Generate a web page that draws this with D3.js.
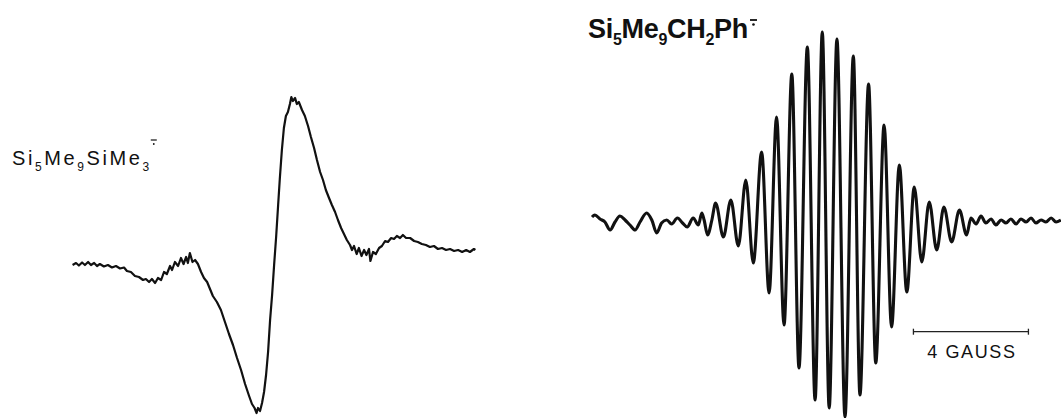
<!DOCTYPE html>
<html>
<head>
<meta charset="utf-8">
<script src="https://cdn.jsdelivr.net/npm/d3@7"></script>
<style>
html,body{margin:0;padding:0;background:#fff;}
svg{display:block;}
</style>
</head>
<body>
<svg id="chart" width="1061" height="418"></svg>
<script>
// ---- Data (field in gauss, signal in arbitrary units) ----
const leftLabel = ["Si","5","Me","9","SiMe","3"];
const rightLabel = ["Si","5","Me","9","CH","2","Ph"];
const scaleBarGauss = 4;
const scaleBarText = "4 GAUSS";

// Si5Me9SiMe3 radical anion spectrum
const leftField = [0.02,0.14,0.24,0.35,0.45,0.56,0.66,0.77,0.87,0.97,1.11,1.25,1.39,1.53,1.67,1.81,1.91,2.05,2.19,2.33,2.47,2.57,2.68,2.78,2.89,2.99,3.10,3.20,3.30,3.41,3.48,3.58,3.69,3.79,3.88,3.97,4.03,4.10,4.19,4.28,4.38,4.49,4.59,4.70,4.80,4.90,5.04,5.18,5.32,5.46,5.60,5.74,5.88,6.02,6.16,6.26,6.35,6.42,6.47,6.54,6.61,6.68,6.75,6.82,6.89,6.96,7.03,7.10,7.17,7.23,7.30,7.37,7.44,7.51,7.58,7.63,7.68,7.76,7.82,7.89,8.00,8.10,8.21,8.31,8.42,8.52,8.63,8.73,8.83,8.94,9.04,9.15,9.25,9.36,9.46,9.56,9.67,9.74,9.81,9.90,9.98,10.07,10.16,10.24,10.33,10.38,10.47,10.57,10.68,10.78,10.89,10.99,11.10,11.20,11.30,11.41,11.51,11.62,11.76,11.90,12.03,12.17,12.31,12.45,12.59,12.73,12.87,13.01,13.15,13.29,13.43,13.57,13.71,13.84,13.98,14.03];
const leftSignal = [-7,-5,-7.5,-4.5,-7,-4,-7,-5,-8,-6,-8.5,-7,-9.5,-8,-10.5,-9.5,-13,-14,-18,-19,-22,-21,-24,-21,-25,-20,-22,-14,-16,-8,-12,-4,-8,0,-6,1,-5,5,-4,-2,-6,-14,-20,-24,-31,-38,-44,-52,-64,-76,-87,-100,-112,-126,-138,-146,-150,-155,-150,-153,-145,-134,-117,-94,-62,-37,-7,21,53,80,108,130,142,146,154,161,157,160,154,156,148,142,132,121,110,98,86,78,68,60,53,46,38,30,24,18,13,8,12,4,10,2,8,3,9,-3,6,4,10,12,17,16,20,19,22,20,23,20,20,17,16,14,13,11,12,9,10,8,9,7,8,6,8,6,9,8];

// Si5Me9CH2Ph radical anion spectrum
const rightField = [0,0.10,0.28,0.45,0.63,0.80,0.97,1.15,1.32,1.50,1.67,1.90,2.08,2.25,2.42,2.60,2.77,2.97,3.15,3.31,3.52,3.70,3.82,3.90,4.02,4.17,4.30,4.57,4.83,5.09,5.35,5.61,5.90,6.16,6.42,6.68,6.95,7.20,7.49,7.76,8.01,8.25,8.52,8.80,9.09,9.32,9.62,9.87,10.16,10.42,10.69,10.95,11.21,11.47,11.73,11.99,12.24,12.51,12.78,13.03,13.18,13.36,13.53,13.70,13.88,14.05,14.23,14.40,14.57,14.75,14.92,15.10,15.27,15.44,15.62,15.79,15.97,16.14,16.31];
const rightSignal = [4,6,2,-1,-9,-1,5,1,-4,-9,-1,8,1,-12,-2,1,-3,3,-2,-6,3,-4,8,1,-14,1,18,-16,21,-25,41,-42,69,-72,104,-104,147,-147,174,-179,189,-187,182,-196,165,-174,137,-142,96,-106,56,-71,34,-41,19,-29,14,-21,11,-14,3,-3,5,-2,2,-4,1,-2,2,-3,2,-1,3,-2,1,-1,3,-1,1];

// ---- Drawing ----
const svg = d3.select("#chart");

const pxPerGauss = 28.75;
const leftX = d3.scaleLinear().domain([0, 14.1]).range([72, 72 + 14.1 * pxPerGauss]);
const leftY = d3.scaleLinear().domain([-160, 160]).range([418, 98]);
const rightX = d3.scaleLinear().domain([0, 16.4]).range([592, 592 + 16.4 * pxPerGauss]);
const rightY = d3.scaleLinear().domain([-200, 200]).range([421, 21]);

const leftData = leftField.map((f, i) => [f, leftSignal[i]]);
const rightData = rightField.map((f, i) => [f, rightSignal[i]]);

svg.append("path")
  .datum(leftData)
  .attr("fill", "none")
  .attr("stroke", "#111")
  .attr("stroke-width", 2.2)
  .attr("stroke-linejoin", "round")
  .attr("d", d3.line().x(d => leftX(d[0])).y(d => leftY(d[1])));

svg.append("path")
  .datum(rightData)
  .attr("fill", "none")
  .attr("stroke", "#111")
  .attr("stroke-width", 3.1)
  .attr("stroke-linejoin", "round")
  .attr("d", d3.line().curve(d3.curveMonotoneX).x(d => rightX(d[0])).y(d => rightY(d[1])));

// scale bar
const barStart = 11.18;
const barY = rightY(-110.7);
const bx0 = rightX(barStart), bx1 = rightX(barStart + scaleBarGauss);
const bar = svg.append("g").attr("stroke", "#222").attr("stroke-width", 1.3);
bar.append("line").attr("x1", bx0).attr("x2", bx1).attr("y1", barY).attr("y2", barY);
bar.append("line").attr("x1", bx0).attr("x2", bx0).attr("y1", barY - 3).attr("y2", barY + 3);
bar.append("line").attr("x1", bx1).attr("x2", bx1).attr("y1", barY - 3).attr("y2", barY + 3);
svg.append("text")
  .attr("x", (bx0 + bx1) / 2 + 1).attr("y", barY + 26)
  .attr("text-anchor", "middle")
  .attr("font-family", "Liberation Sans, Arial, sans-serif")
  .attr("font-size", 18)
  .attr("letter-spacing", 1.6)
  .attr("fill", "#111")
  .text(scaleBarText);

// labels
function drawLabel(parts, x, y, size, subSize, weight, spacing, subDy) {
  const t = svg.append("text")
    .attr("x", x).attr("y", y)
    .attr("font-family", "Liberation Sans, Arial, sans-serif")
    .attr("font-size", size)
    .attr("font-weight", weight)
    .attr("letter-spacing", spacing)
    .attr("fill", "#111");
  parts.forEach((p, i) => {
    const isSub = i % 2 === 1;
    const ts = t.append("tspan").text(p);
    if (isSub) ts.attr("font-size", subSize).attr("dy", subDy);
    else if (i > 0) ts.attr("dy", -subDy);
  });
  return t;
}

const lt = drawLabel(leftLabel, 12, 165, 20, 12, 400, 2.6, 6);
const lb = lt.node().getBBox();
// radical anion mark (bar over dot)
svg.append("line").attr("x1", lb.x + lb.width - 1).attr("x2", lb.x + lb.width + 5)
  .attr("y1", 140).attr("y2", 140).attr("stroke", "#111").attr("stroke-width", 1.2);
svg.append("circle").attr("cx", lb.x + lb.width + 2).attr("cy", 144).attr("r", 0.9).attr("fill", "#111");

const rt = drawLabel(rightLabel, 588, 38, 27, 16, 700, -0.3, 7);
const rb = rt.node().getBBox();
svg.append("line").attr("x1", rb.x + rb.width + 2).attr("x2", rb.x + rb.width + 9)
  .attr("y1", 20).attr("y2", 20).attr("stroke", "#111").attr("stroke-width", 1.8);
svg.append("circle").attr("cx", rb.x + rb.width + 5.5).attr("cy", 24.5).attr("r", 1.3).attr("fill", "#111");
</script>
</body>
</html>
